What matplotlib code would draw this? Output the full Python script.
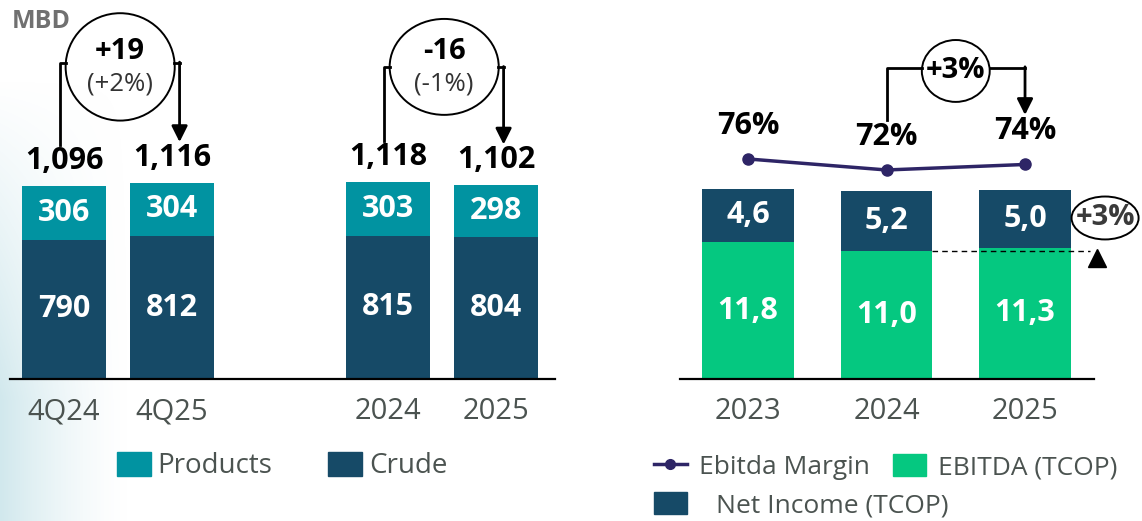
import numpy as np
import matplotlib.pyplot as plt
from matplotlib.patches import Ellipse, Patch
from matplotlib.lines import Line2D

plt.rcParams['font.family'] = ['Open Sans', 'DejaVu Sans']

# left panel: volumes in MBD
vol_labels = ['4Q24', '4Q25', '2024', '2025']
vol_pos = [0, 1, 3, 4]
crude = [790, 812, 815, 804]
products = [306, 304, 303, 298]
totals = [1096, 1116, 1118, 1102]

# right panel: results (TCOP)
years = ['2023', '2024', '2025']
ebitda = [11.8, 11.0, 11.3]
net_income = [4.6, 5.2, 5.0]
margin = [76, 72, 74]

# colours
PROD = '#0193A1'
CRUDE = '#164A67'
GREEN = '#05C880'
LINE = '#2E2566'
GRAY = '#4B5350'

W, H = 1142, 521
fig = plt.figure(figsize=(W / 100, H / 100), dpi=100)


def box(l, r, top, bottom):
    return [l / W, 1 - bottom / H, (r - l) / W, (bottom - top) / H]


# soft background tint at the lower left
bg = fig.add_axes([0, 0, 1, 1], zorder=-10)
bg.axis('off')
xs = np.arange(W)[None, :]
ys = np.arange(H)[:, None]
alpha = np.clip(1 - xs / 130, 0, 1) ** 1.5 * np.clip((ys - 80) / 320, 0, 1)
img = np.zeros((H, W, 4))
img[..., 0], img[..., 1], img[..., 2] = 0.82, 0.91, 0.93
img[..., 3] = alpha
bg.imshow(img, aspect='auto', extent=[0, 1, 0, 1])


def style(ax):
    for s in ['top', 'left', 'right']:
        ax.spines[s].set_visible(False)
    ax.spines['bottom'].set_linewidth(1.6)
    ax.set_facecolor('none')
    ax.set_yticks([])
    ax.tick_params(axis='x', length=0, pad=13, labelsize=21, labelcolor=GRAY)


# ---------------- left panel ----------------
axL = fig.add_axes(box(10, 555, 0, 379))
style(axL)
axL.bar(vol_pos, crude, width=0.78, color=CRUDE)
axL.bar(vol_pos, products, width=0.78, bottom=crude, color=PROD)
axL.set_xlim(-0.5, 4.546)
axL.set_ylim(0, 2153)
axL.set_xticks(vol_pos)
axL.set_xticklabels(vol_labels)

for x, c, p, t in zip(vol_pos, crude, products, totals):
    axL.text(x, c / 2, f'{c}', ha='center', va='center', color='white',
             fontsize=22, fontweight='bold')
    axL.text(x, c + p / 2, f'{p}', ha='center', va='center', color='white',
             fontsize=22, fontweight='bold')
    axL.annotate(f'{t:,}', (x, t), xytext=(0, 25), textcoords='offset pixels',
                 ha='center', va='center', fontsize=22, fontweight='bold')

fig.text(12 / W, 1 - 22 / H, 'MBD', color='#707070', fontsize=18,
         fontweight='bold', va='center')

# change bubbles
bubbles = [(0, 1, '+19', '(+2%)', 1795), (2, 3, '-16', '(-1%)', 1770)]
for i, j, big, small, yarm in bubbles:
    x0, x1 = vol_pos[i], vol_pos[j]
    cx = (x0 + x1) / 2 + 0.02
    el = Ellipse((cx, 1773), 1.01, 610 if i == 0 else 545, fill=False,
                 lw=1.4, color='black', clip_on=False)
    axL.add_patch(el)
    axL.text(cx, 1860, big, ha='center', va='center', fontsize=21,
             fontweight='bold')
    axL.text(cx, 1675, small, ha='center', va='center', fontsize=18.5,
             color='#333333')
    xl = x0 - 0.04
    xr = x1 + 0.07
    axL.plot([xl, xl, cx - 0.5], [totals[i] + 232, yarm, yarm],
             color='black', lw=2, clip_on=False)
    axL.plot([cx + 0.5, xr], [yarm, yarm], color='black', lw=2, clip_on=False)
    axL.annotate('', xy=(xr, totals[j] + 230), xytext=(xr, yarm + 5),
                 arrowprops=dict(arrowstyle='-|>', color='black', lw=2,
                                 mutation_scale=24, shrinkA=0, shrinkB=0))

fig.legend([Patch(color=PROD), Patch(color=CRUDE)], ['Products', 'Crude'],
           loc='center', bbox_to_anchor=(282 / W, 1 - 466 / H), ncol=2,
           frameon=False, fontsize=20, handlelength=1.22, handleheight=1.0,
           handletextpad=0.25, columnspacing=2.0, labelcolor=GRAY,
           borderpad=0, borderaxespad=0)

# ---------------- right panel ----------------
axR = fig.add_axes(box(680, 1094, 0, 379))
style(axR)
xr_pos = np.arange(len(years))
axR.bar(xr_pos, ebitda, width=0.664, color=GREEN)
axR.bar(xr_pos, net_income, width=0.664, bottom=ebitda, color=CRUDE)
axR.set_xlim(-0.491, 2.498)
axR.set_ylim(0, 32.67)
axR.set_xticks(xr_pos)
axR.set_xticklabels(years)

for x, e, n in zip(xr_pos, ebitda, net_income):
    axR.text(x, e / 2, f'{e:.1f}'.replace('.', ','), ha='center', va='center',
             color='white', fontsize=22, fontweight='bold')
    axR.text(x, e + n / 2, f'{n:.1f}'.replace('.', ','), ha='center',
             va='center', color='white', fontsize=22, fontweight='bold')

ax2 = axR.twinx()
ax2.set_ylim(-4, 133.8)
ax2.axis('off')
ax2.plot(xr_pos, margin, color=LINE, lw=2.5, marker='o', ms=8)
for x, m in zip(xr_pos, margin):
    ax2.annotate(f'{m}%', (x, m), xytext=(0, 33), textcoords='offset pixels',
                 ha='center', va='center', fontsize=22, fontweight='bold')

# margin change bubble
ax2.add_patch(Ellipse((1.5, 108), 0.49, 22.5, fill=False, lw=1.4,
                      color='black', clip_on=False))
ax2.text(1.5, 108, '+3%', ha='center', va='center', fontsize=21,
         fontweight='bold')
ax2.plot([1, 1, 1.255], [margin[1] + 18, 109, 109], color='black', lw=2,
         clip_on=False)
ax2.plot([1.745, 2], [109, 109], color='black', lw=2, clip_on=False)
ax2.annotate('', xy=(2, margin[2] + 18), xytext=(2, 109.5),
             arrowprops=dict(arrowstyle='-|>', color='black', lw=2,
                             mutation_scale=24, shrinkA=0, shrinkB=0))

# ebitda change marker
axR.plot([1.33, 2.47], [ebitda[1], ebitda[1]], color='black', lw=1,
         ls=(0, (4, 3)), clip_on=False, zorder=5)
axR.plot([2.52], [10.45], marker='^', color='black', ms=13, clip_on=False)
axR.add_patch(Ellipse((2.578, 13.88), 0.484, 3.7, fill=False, lw=1.4,
                      color='black', clip_on=False))
axR.text(2.578, 13.88, '+3%', ha='center', va='center', fontsize=21,
         fontweight='bold', color='#3A3A3A', clip_on=False)

fig.legend([Line2D([], [], color=LINE, lw=2.5, marker='o', ms=7),
            Patch(color=GREEN)], ['Ebitda Margin', 'EBITDA (TCOP)'],
           loc='center left', bbox_to_anchor=(654 / W, 1 - 467 / H), ncol=2,
           frameon=False, fontsize=19, handlelength=1.25, handleheight=0.9,
           handletextpad=0.45, columnspacing=0.9, labelcolor=GRAY,
           borderpad=0, borderaxespad=0)
fig.legend([Patch(color=CRUDE)], ['Net Income (TCOP)'],
           loc='center left', bbox_to_anchor=(654 / W, 1 - 505 / H),
           frameon=False, fontsize=19, handlelength=1.25, handleheight=0.9,
           handletextpad=1.1, labelcolor=GRAY, borderpad=0, borderaxespad=0)

fig.savefig('out.png', dpi=100)
